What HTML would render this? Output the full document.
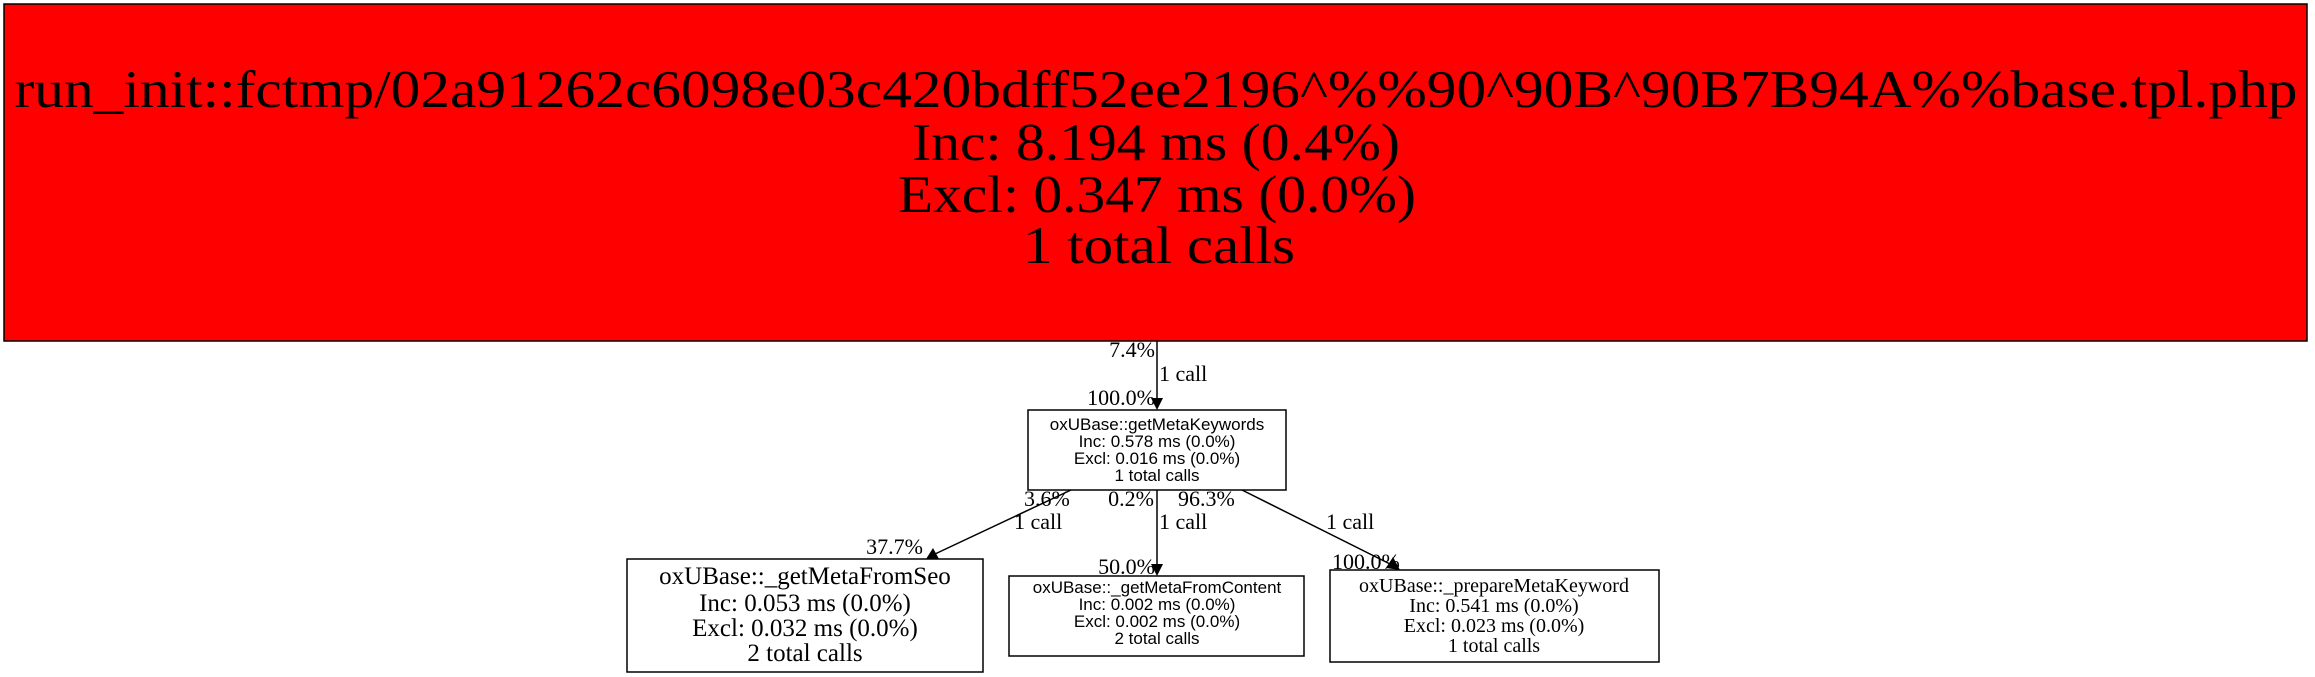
<!DOCTYPE html>
<html><head><style>body{margin:0;background:#fff}svg{display:block}</style></head><body>
<svg width="2315" height="677" viewBox="0 0 2315 677" xmlns="http://www.w3.org/2000/svg">
<rect x="4" y="4" width="2303" height="337" fill="#ff0000" stroke="#000" stroke-width="1.5"/>
<g font-family="Liberation Serif, serif" font-size="53" text-anchor="middle" fill="#000">
<text x="1156" y="107" textLength="2283" lengthAdjust="spacingAndGlyphs">run_init::fctmp/02a91262c6098e03c420bdff52ee2196^%%90^90B^90B7B94A%%base.tpl.php</text>
<text x="1156" y="160" textLength="488" lengthAdjust="spacingAndGlyphs">Inc: 8.194 ms (0.4%)</text>
<text x="1157" y="212" textLength="518" lengthAdjust="spacingAndGlyphs">Excl: 0.347 ms (0.0%)</text>
<text x="1159" y="263" textLength="272" lengthAdjust="spacingAndGlyphs">1 total calls</text>
</g>
<g stroke="#000" stroke-width="1.5" fill="none">
<line x1="1157" y1="341" x2="1157" y2="398"/>
<line x1="1071" y1="490" x2="935" y2="554"/>
<line x1="1157" y1="490" x2="1157" y2="564"/>
<line x1="1242" y1="490" x2="1390" y2="564"/>
<rect x="1028" y="410" width="258" height="80"/>
<rect x="627" y="559" width="356" height="113"/>
<rect x="1009" y="576" width="295" height="80"/>
<rect x="1330" y="570" width="329" height="92"/>
</g>
<g fill="#000">
<polygon points="1151,398 1163,398 1157,410"/>
<polygon points="926,559 933,548 939,559"/>
<polygon points="1151,564 1163,564 1157,576"/>
<polygon points="1400,570 1386,568 1393,557"/>
</g>
<g font-family="Liberation Serif, serif" font-size="22" fill="#000">
<text x="1155" y="357" text-anchor="end">7.4%</text>
<text x="1159" y="381">1 call</text>
<text x="1155" y="405" text-anchor="end">100.0%</text>
<text x="1024" y="506">3.6%</text>
<text x="1154" y="506" text-anchor="end">0.2%</text>
<text x="1178" y="506">96.3%</text>
<text x="1014" y="529">1 call</text>
<text x="1159" y="529">1 call</text>
<text x="1326" y="529">1 call</text>
<text x="923" y="554" text-anchor="end">37.7%</text>
<text x="1155" y="574" text-anchor="end">50.0%</text>
<text x="1332" y="569">100.0%</text>
</g>
<g font-family="Liberation Sans, sans-serif" font-size="17" text-anchor="middle" fill="#000">
<text x="1157" y="430">oxUBase::getMetaKeywords</text>
<text x="1157" y="447">Inc: 0.578 ms (0.0%)</text>
<text x="1157" y="464">Excl: 0.016 ms (0.0%)</text>
<text x="1157" y="481">1 total calls</text>
<text x="1157" y="593">oxUBase::_getMetaFromContent</text>
<text x="1157" y="610">Inc: 0.002 ms (0.0%)</text>
<text x="1157" y="627">Excl: 0.002 ms (0.0%)</text>
<text x="1157" y="644">2 total calls</text>
</g>
<g font-family="Liberation Serif, serif" font-size="25" text-anchor="middle" fill="#000">
<text x="805" y="584">oxUBase::_getMetaFromSeo</text>
<text x="805" y="611">Inc: 0.053 ms (0.0%)</text>
<text x="805" y="636">Excl: 0.032 ms (0.0%)</text>
<text x="805" y="661">2 total calls</text>
</g>
<g font-family="Liberation Serif, serif" font-size="20" text-anchor="middle" fill="#000">
<text x="1494" y="592">oxUBase::_prepareMetaKeyword</text>
<text x="1494" y="612">Inc: 0.541 ms (0.0%)</text>
<text x="1494" y="632">Excl: 0.023 ms (0.0%)</text>
<text x="1494" y="652">1 total calls</text>
</g>
</svg>
</body></html>
